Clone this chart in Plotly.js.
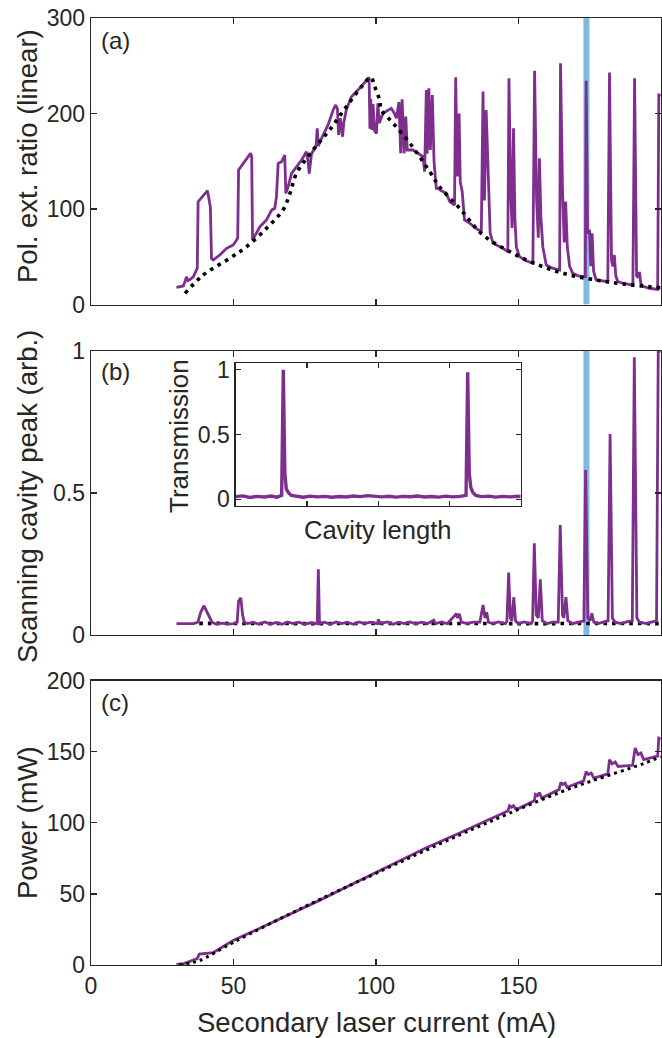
<!DOCTYPE html>
<html>
<head>
<meta charset="utf-8">
<script src="https://cdn.plot.ly/plotly-3.0.1.min.js"></script>
<style>
html,body{margin:0;padding:0;background:#fff;}
#chart{width:662px;height:1038px;}
</style>
</head>
<body>
<div id="chart"></div>
<script>
// ---------- Panel (a): polarisation extinction ratio ----------
const aCurrent = [30.0, 31.5, 32.4, 33.0, 33.5, 34.0, 34.7, 35.9, 37.0, 37.3, 37.6, 40.9, 41.9, 42.3, 42.9, 45.2, 47.6, 49.9, 51.1, 51.5, 51.8, 56.0, 56.4, 56.7, 59.3, 61.6, 63.4, 64.5, 65.1, 65.7, 66.9, 68.0, 68.4, 69.2, 70.4, 72.1, 73.9, 75.6, 76.2, 76.6, 77.4, 79.0, 79.4, 79.8, 80.3, 83.2, 85.0, 85.9, 86.5, 86.9, 87.5, 88.3, 88.7, 89.6, 91.4, 94.3, 97.6, 97.9, 98.2, 98.6, 99.0, 99.5, 100.2, 100.7, 101.2, 102.5, 104.0, 105.4, 106.5, 107.2, 108.1, 108.7, 109.2, 109.9, 110.5, 111.0, 113.0, 114.8, 116.5, 117.1, 117.7, 118.0, 118.6, 119.1, 119.8, 120.4, 121.2, 121.8, 123.0, 124.7, 125.9, 127.6, 128.0, 128.6, 129.2, 129.6, 130.3, 131.1, 133.0, 135.0, 137.0, 137.6, 138.1, 138.7, 139.6, 140.1, 141.1, 144.6, 146.3, 146.7, 147.3, 147.8, 148.3, 148.8, 149.3, 150.4, 152.5, 155.1, 155.7, 156.4, 157.0, 157.4, 157.9, 158.6, 159.8, 162.0, 164.5, 164.8, 165.5, 166.1, 166.6, 167.2, 168.0, 169.1, 171.0, 173.5, 173.8, 174.3, 175.0, 175.4, 175.9, 176.4, 177.3, 179.0, 181.4, 182.0, 182.7, 183.2, 183.7, 184.2, 184.9, 187.0, 190.2, 190.8, 191.5, 192.0, 192.5, 193.0, 193.7, 196.0, 198.9, 199.3, 200.0];
const aRatio = [18, 18.5, 19.4, 24, 29, 25, 26, 29, 36, 38, 107.7, 119.2, 102, 48, 46.6, 51.8, 58.8, 62.3, 67.5, 70, 140.8, 158.3, 155, 67.5, 81.5, 88.5, 99, 100.7, 112.9, 147.8, 149.6, 156.5, 116.4, 123.4, 137.3, 144.3, 151.3, 160, 150, 137, 158, 165.3, 184.5, 166, 170, 188, 203.7, 208.9, 205, 177.5, 195, 175.7, 190, 203.7, 217.6, 226.4, 237.9, 184, 215, 182.7, 210, 182, 179.2, 210.6, 190, 200.2, 203, 205.4, 200, 195, 212, 158.3, 214.8, 158.3, 196.7, 161.8, 161.8, 158, 154.8, 139.1, 224.6, 158, 226.4, 161.8, 219.4, 150, 121.6, 121.6, 119, 116.4, 107.7, 104.2, 237.9, 134, 200, 128.6, 118, 88.5, 85, 80, 76.3, 222.9, 109, 203.7, 102.4, 75, 64.1, 58.8, 55.3, 236.8, 120, 80, 184.5, 90, 60, 50.1, 46, 43.1, 244.8, 110, 70, 153, 92, 60, 41.4, 38, 36.1, 252.5, 120, 65, 107.7, 60, 40, 32.6, 30, 29.1, 234.4, 74, 78, 40, 74.5, 35, 25.7, 25, 23.9, 242.8, 46, 40, 51.8, 30, 24, 22, 20.4, 236.8, 30, 28, 34, 22, 19, 17, 15.9, 219.4, 219];
const aFitCurrent = [33, 39.4, 48.7, 54.6, 61.6, 67.4, 69.8, 72.1, 78, 83.8, 89.6, 95.5, 98.2, 99.6, 101.3, 101.9, 106, 111.9, 118.9, 122.4, 129.4, 137.6, 148.1, 158.6, 168, 177.3, 186.7, 200];
const aFitRatio = [11.7, 30.9, 48.4, 60.5, 79.8, 99, 116, 137, 162, 183, 207, 230, 238, 228, 214, 204, 190, 169, 139, 123, 100.7, 72.8, 53.6, 39.6, 30.9, 25.6, 21.5, 17.5];

// ---------- Panel (b): scanning cavity peak ----------
const bCurrent = [30, 33, 36, 37.5, 38.5, 39.6, 40.5, 41.5, 42.5, 44, 46, 48, 50, 51.3, 51.8, 52.6, 53.2, 53.8, 55, 57, 59, 61, 63, 65, 67, 69, 71, 73, 75, 77, 79.4, 79.8, 80.2, 82, 84, 86, 88, 90, 92, 94, 96, 98, 100.5, 100.9, 101.4, 104, 106, 108, 110, 112, 114, 116, 118, 120.3, 121, 123, 125, 127.8, 128.2, 128.7, 129.3, 130, 132, 134, 136.5, 137.6, 138.3, 138.9, 139.5, 141, 143, 145.5, 146.0, 146.6, 147.2, 147.7, 148.4, 149.0, 150, 152, 154.5, 155.0, 155.6, 156.3, 157.0, 157.7, 158.4, 160, 162, 164.0, 164.7, 165.5, 166.0, 166.7, 167.4, 169, 171, 173.0, 173.6, 174.4, 175.2, 175.8, 176.5, 178, 180, 181.5, 182.2, 183.0, 184, 186, 188, 190.0, 190.7, 191.6, 192.5, 195, 197, 198.5, 199.1, 200];
const bPeak = [0.04, 0.04, 0.04, 0.045, 0.08, 0.103, 0.085, 0.06, 0.045, 0.038, 0.042, 0.038, 0.04, 0.045, 0.12, 0.131, 0.07, 0.045, 0.04, 0.045, 0.038, 0.046, 0.038, 0.044, 0.038, 0.046, 0.04, 0.045, 0.038, 0.043, 0.04, 0.231, 0.04, 0.045, 0.038, 0.046, 0.04, 0.045, 0.038, 0.046, 0.04, 0.045, 0.04, 0.055, 0.04, 0.046, 0.038, 0.045, 0.04, 0.046, 0.039, 0.045, 0.04, 0.052, 0.04, 0.046, 0.04, 0.07, 0.076, 0.06, 0.075, 0.045, 0.04, 0.045, 0.045, 0.106, 0.06, 0.08, 0.045, 0.04, 0.046, 0.04, 0.05, 0.22, 0.06, 0.05, 0.133, 0.05, 0.04, 0.046, 0.04, 0.05, 0.323, 0.07, 0.06, 0.196, 0.05, 0.04, 0.045, 0.045, 0.387, 0.07, 0.06, 0.133, 0.05, 0.04, 0.046, 0.05, 0.581, 0.06, 0.05, 0.076, 0.045, 0.04, 0.046, 0.05, 0.708, 0.06, 0.045, 0.04, 0.046, 0.05, 0.978, 0.06, 0.045, 0.04, 0.046, 0.05, 1.0, 1.0];
const bFitCurrent = [38, 50, 60, 80, 100, 120, 140, 160, 180, 200];
const bFitPeak = [0.041, 0.04, 0.041, 0.04, 0.041, 0.04, 0.041, 0.04, 0.041, 0.04];

// ---------- Inset: cavity transmission ----------
const insLength = [0, 0.1, 0.2, 0.3, 0.4, 0.5, 0.58, 0.645, 0.668, 0.69, 0.71, 0.74, 0.78, 0.85, 0.95, 1.05, 1.15, 1.25, 1.35, 1.45, 1.55, 1.65, 1.75, 1.85, 1.95, 2.05, 2.15, 2.25, 2.35, 2.45, 2.55, 2.65, 2.75, 2.85, 2.95, 3.05, 3.15, 3.233, 3.256, 3.278, 3.3, 3.33, 3.37, 3.45, 3.55, 3.65, 3.75, 3.85, 3.95, 4.0];
const insTrans = [0.02, 0.026, 0.014, 0.022, 0.017, 0.025, 0.016, 0.03, 1.0, 0.2, 0.08, 0.05, 0.03, 0.022, 0.016, 0.024, 0.018, 0.022, 0.015, 0.021, 0.017, 0.025, 0.02, 0.028, 0.022, 0.018, 0.023, 0.016, 0.022, 0.019, 0.025, 0.017, 0.021, 0.016, 0.024, 0.018, 0.022, 0.03, 0.98, 0.2, 0.09, 0.05, 0.03, 0.02, 0.024, 0.016, 0.022, 0.018, 0.023, 0.02];

// ---------- Panel (c): power ----------
const cCurrent = [30, 31.5, 32.5, 34, 36, 37.3, 38.0, 40, 42.9, 46, 49.9, 60, 70, 80, 94.3, 106, 117.7, 129.4, 138.7, 146.3, 146.9, 147.6, 148.3, 149.0, 150.4, 155.6, 156.0, 156.7, 157.4, 158.2, 164.3, 164.9, 165.6, 166.4, 167.1, 172.9, 173.8, 174.6, 175.6, 176.5, 181.4, 182.0, 182.9, 184.0, 185.0, 190.1, 191.0, 192.0, 193.0, 194.0, 198.9, 199.3, 200];
const cPower = [0.5, 0.5, 1.0, 2, 3.5, 4.5, 7.7, 8.2, 8.7, 12.5, 17.3, 26.5, 36, 45.3, 59.5, 71, 82.5, 92.8, 101.5, 108.3, 112, 111, 112, 110, 110.4, 115.5, 120, 119, 121.3, 117.5, 123.5, 128.4, 127, 128, 125, 129.5, 136.1, 134, 135, 131.5, 134.5, 144.4, 141.5, 142.8, 139.7, 140.5, 152.6, 148, 149.1, 144.5, 147, 159.6, 159];
const cFitCurrent = [31, 35, 38, 50, 75, 100, 129.4, 146.9, 165.3, 175.8, 193.7, 200];
const cFitPower = [0, 1.5, 3, 16, 41, 64.5, 91.5, 106.8, 122, 129.5, 141.5, 146.5];

// marked operating point
const markCurrent = 173.9;

// ---------- tick labels ----------
const xTicks = [0, 50, 100, 150, 200];
const xTickText = ['0', '50', '100', '150', ''];
const aTicks = [0, 100, 200, 300];
const bTicks = [0, 0.5, 1];
const cTicks = [0, 50, 100, 150, 200];
const insXTicks = [1, 2, 3];
const insYTicks = [0, 0.5, 1];

const PURPLE = '#7e2f8e';
const BLUE = '#80b9e2';
const INK = '#262626';
const FONT = 'Liberation Sans, Arial, Helvetica, sans-serif';

const purple = {color: PURPLE, width: 2.8};
const dotted = {color: '#000000', width: 3.6, dash: '3.6px,5px', shape: 'spline'};

const traces = [
  {x: [markCurrent, markCurrent], y: [0, 300], xaxis: 'x', yaxis: 'y', mode: 'lines', line: {color: BLUE, width: 6}, hoverinfo: 'skip'},
  {x: aCurrent, y: aRatio, xaxis: 'x', yaxis: 'y', mode: 'lines', line: purple},
  {x: aFitCurrent, y: aFitRatio, xaxis: 'x', yaxis: 'y', mode: 'lines', line: dotted},
  {x: [markCurrent, markCurrent], y: [0, 1], xaxis: 'x2', yaxis: 'y2', mode: 'lines', line: {color: BLUE, width: 6}, hoverinfo: 'skip'},
  {x: bFitCurrent, y: bFitPeak, xaxis: 'x2', yaxis: 'y2', mode: 'lines', line: {color: '#000000', width: 3.6, dash: '3.6px,5px'}},
  {x: bCurrent, y: bPeak, xaxis: 'x2', yaxis: 'y2', mode: 'lines', line: purple},
  {x: insLength, y: insTrans, xaxis: 'x4', yaxis: 'y4', mode: 'lines', line: {color: PURPLE, width: 3.4}},
  {x: cCurrent, y: cPower, xaxis: 'x3', yaxis: 'y3', mode: 'lines', line: purple},
  {x: cFitCurrent, y: cFitPower, xaxis: 'x3', yaxis: 'y3', mode: 'lines', line: {color: '#000000', width: 3, dash: '3px,4px', shape: 'spline'}}
];

function ax(extra) {
  return Object.assign({
    showline: true, linecolor: INK, linewidth: 1.3, mirror: 'allticks',
    ticks: 'inside', ticklen: 6, tickwidth: 1.3, tickcolor: INK,
    showgrid: false, zeroline: false,
    tickfont: {family: FONT, size: 23, color: INK},
    fixedrange: true
  }, extra);
}

const XDOM = [91 / 662, 660.8 / 662];
const H = 1038;
function yd(top, bottom) { return [(H - bottom) / H, (H - top) / H]; }

const layout = {
  width: 662, height: 1038,
  margin: {l: 0, r: 0, t: 0, b: 0},
  paper_bgcolor: '#ffffff', plot_bgcolor: 'rgba(0,0,0,0)',
  showlegend: false,
  font: {family: FONT, color: INK},
  xaxis: ax({domain: XDOM, range: [0, 200], tickvals: xTicks, showticklabels: false, anchor: 'y'}),
  yaxis: ax({domain: yd(18, 304.5), range: [0, 300], tickvals: aTicks, anchor: 'x'}),
  xaxis2: ax({domain: XDOM, range: [0, 200], tickvals: xTicks, showticklabels: false, anchor: 'y2'}),
  yaxis2: ax({domain: yd(351, 635), range: [0, 1], tickvals: bTicks, anchor: 'x2'}),
  xaxis3: ax({domain: XDOM, range: [0, 200], tickvals: xTicks, ticktext: xTickText, anchor: 'y3'}),
  yaxis3: ax({domain: yd(680.7, 965), range: [0, 200], tickvals: cTicks, anchor: 'x3'}),
  xaxis4: ax({domain: [235.7 / 662, 520.7 / 662], range: [0, 4], tickvals: insXTicks, showticklabels: false, ticklen: 5, anchor: 'y4'}),
  yaxis4: ax({domain: yd(363.3, 505.7), range: [-0.05, 1.05], tickvals: insYTicks, ticklen: 5, anchor: 'x4'}),
  annotations: [
    {text: 'Pol. ext. ratio (linear)', xref: 'paper', yref: 'paper', x: 27 / 662, y: 1 - 156 / H, textangle: -90, showarrow: false, xanchor: 'center', yanchor: 'middle', font: {family: FONT, size: 27.5, color: INK}},
    {text: 'Scanning cavity peak (arb.)', xref: 'paper', yref: 'paper', x: 27 / 662, y: 1 - 497 / H, textangle: -90, showarrow: false, xanchor: 'center', yanchor: 'middle', font: {family: FONT, size: 27.5, color: INK}},
    {text: 'Power (mW)', xref: 'paper', yref: 'paper', x: 27 / 662, y: 1 - 823 / H, textangle: -90, showarrow: false, xanchor: 'center', yanchor: 'middle', font: {family: FONT, size: 27.5, color: INK}},
    {text: 'Secondary laser current (mA)', xref: 'paper', yref: 'paper', x: 376 / 662, y: 1 - 1022 / H, showarrow: false, xanchor: 'center', yanchor: 'middle', font: {family: FONT, size: 27.5, color: INK}},
    {text: 'Transmission', xref: 'paper', yref: 'paper', x: 179 / 662, y: 1 - 436 / H, textangle: -90, showarrow: false, xanchor: 'center', yanchor: 'middle', font: {family: FONT, size: 26, color: INK}},
    {text: 'Cavity length', xref: 'paper', yref: 'paper', x: 377 / 662, y: 1 - 530 / H, showarrow: false, xanchor: 'center', yanchor: 'middle', font: {family: FONT, size: 25.5, color: INK}},
    {text: '(a)', xref: 'paper', yref: 'paper', x: 99 / 662, y: 1 - 40 / H, showarrow: false, xanchor: 'left', yanchor: 'middle', font: {family: FONT, size: 24, color: INK}},
    {text: '(b)', xref: 'paper', yref: 'paper', x: 99 / 662, y: 1 - 372 / H, showarrow: false, xanchor: 'left', yanchor: 'middle', font: {family: FONT, size: 24, color: INK}},
    {text: '(c)', xref: 'paper', yref: 'paper', x: 99 / 662, y: 1 - 702 / H, showarrow: false, xanchor: 'left', yanchor: 'middle', font: {family: FONT, size: 24, color: INK}}
  ]
};

Plotly.newPlot('chart', traces, layout, {displayModeBar: false, staticPlot: true});
</script>
</body>
</html>
